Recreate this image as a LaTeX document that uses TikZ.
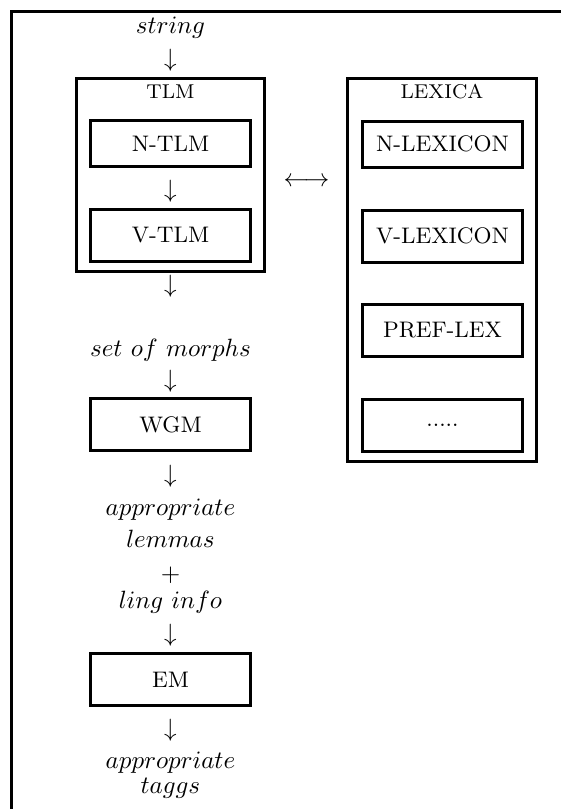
\documentclass[tikz,border=0pt]{standalone}
\begin{document}
\begin{tikzpicture}[x=0.4pt,y=-0.4pt,
  frameline/.style={line width=1.2pt},
  outerbox/.style={draw,line width=1.2pt,inner sep=0pt},
  modbox/.style={draw,line width=1.2pt,inner sep=0pt,minimum width=64pt,minimum height=20.8pt,font=\small},
  hdr/.style={anchor=base,inner sep=0pt,font=\footnotesize},
  mtext/.style={anchor=base,inner sep=0pt},
  arr/.style={inner sep=0pt}]
\useasboundingbox (0,0) rectangle (561,809);
% frame
\draw[frameline] (11.5,809) -- (11.5,11.5) -- (561,11.5);
% TLM block
\node[outerbox,minimum width=75.2pt,minimum height=77.2pt] (tlm) at (170.5,175) {};
\node[hdr] (tlmh) at (170.5,98) {TLM};
\node[modbox,minimum height=18.4pt] (ntlm) at (170.5,143.5) {N-TLM};
\node[modbox] (vtlm) at (170.5,235.5) {V-TLM};
\node[arr] (a2) at (170.5,191) {$\downarrow$};
% LEXICA block
\node[outerbox,minimum width=75.6pt,minimum height=153.2pt] (lex) at (442,270) {};
\node[hdr] (lexh) at (442,98) {LEXICA};
\node[modbox,minimum height=18.4pt] (nlex) at (442.5,144) {N-LEXICON};
\node[modbox] (vlex) at (442.5,236) {V-LEXICON};
\node[modbox] (plex) at (442.5,330.5) {PREF-LEX};
\node[modbox] (dlex) at (442.5,425) {.....};
\node[arr] (lr) at (306.5,182) {$\longleftrightarrow$};
% main flow
\node[mtext] (str) at (170.5,33) {$string$};
\node[arr] (a1) at (170.5,60) {$\downarrow$};
\node[arr] (a3) at (170.5,286) {$\downarrow$};
\node[mtext] (som) at (170.5,356) {$set\ of\ morphs$};
\node[arr] (a4) at (170.5,381) {$\downarrow$};
\node[modbox] (wgm) at (170.5,424.5) {WGM};
\node[arr] (a5) at (170.5,476) {$\downarrow$};
\node[mtext] (ap1) at (170.5,515) {$appropriate$};
\node[mtext] (lem) at (170.5,547) {$lemmas$};
\node[arr] (plus) at (170.5,575) {$+$};
\node[mtext] (ling) at (170.5,608) {$ling\ info$};
\node[arr] (a6) at (170.5,635) {$\downarrow$};
\node[modbox] (em) at (170.5,679.5) {EM};
\node[arr] (a7) at (170.5,730) {$\downarrow$};
\node[mtext] (ap2) at (170.5,768) {$appropriate$};
\node[mtext] (tag) at (170.5,793) {$taggs$};
\end{tikzpicture}
\end{document}
